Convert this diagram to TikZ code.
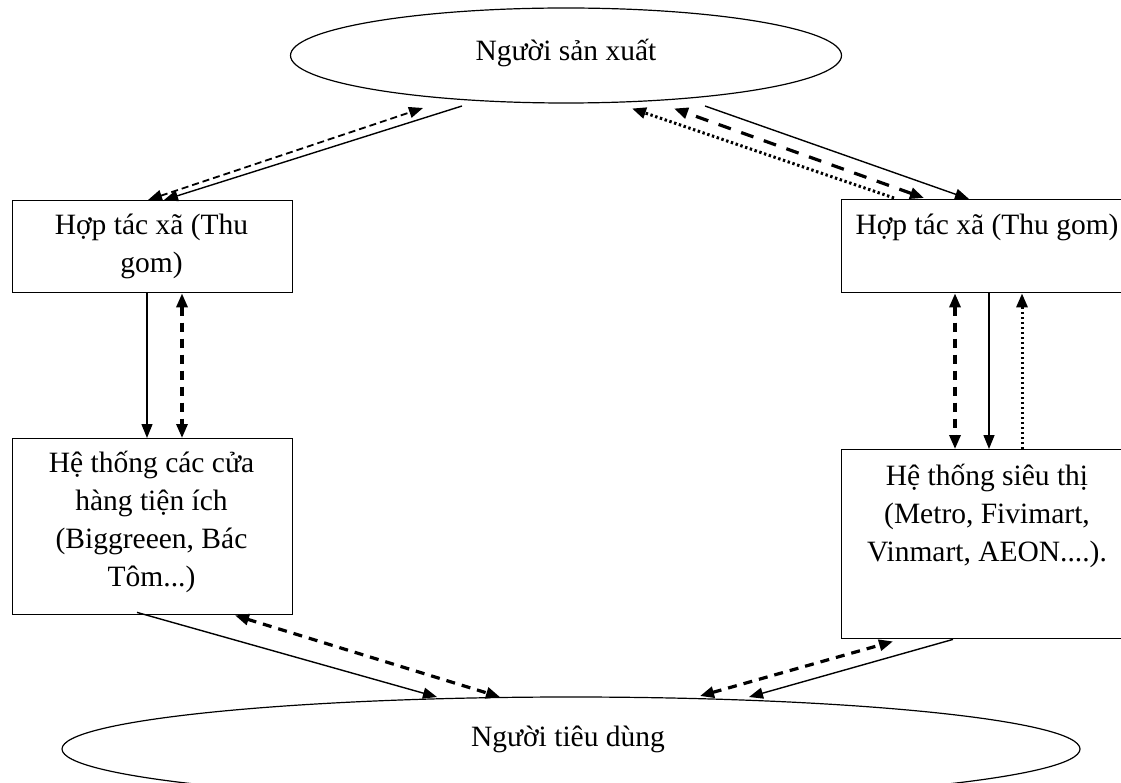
\documentclass[tikz,border=0pt]{standalone}
\usepackage{fontspec}
\setmainfont{Liberation Serif}
\usetikzlibrary{arrows.meta,shapes.geometric}
\begin{document}
\begin{tikzpicture}[x=1pt,y=-1pt,
  >={Triangle[length=14pt,width=11pt]},
  boxshape/.style={draw, line width=1.4pt, inner sep=0pt, anchor=north west},
  ovalshape/.style={draw, ellipse, line width=1.2pt, inner sep=0pt},
  lbl/.style={font=\fontsize{29.5}{38}\selectfont, align=center, inner sep=0pt},
  solidline/.style={line width=1.4pt},
  thindash/.style={line width=1.8pt, dash pattern=on 7pt off 4pt},
  thickdash/.style={line width=3.2pt, dash pattern=on 9pt off 7pt},
  longdash/.style={line width=3.2pt, dash pattern=on 13pt off 11pt},
  dotline/.style={line width=3pt, dash pattern=on 2.4pt off 2.6pt}]
\useasboundingbox (0,0) rectangle (1121,783);
\clip (0,0) rectangle (1121,783);

% shapes
\node[ovalshape, minimum width=551pt, minimum height=95pt] (prod) at (566,55.5) {};
\node[ovalshape, minimum width=1018pt, minimum height=104pt] (cons) at (571,749) {};
\node[boxshape, minimum width=280pt, minimum height=92pt] (htxL) at (12,200) {};
\node[boxshape, minimum width=292pt, minimum height=93pt] (htxR) at (841,199) {};
\node[boxshape, minimum width=280pt, minimum height=176pt] (shopL) at (12,438) {};
\node[boxshape, minimum width=292pt, minimum height=189pt] (superR) at (841,449) {};

% texts
\node[lbl] (tprod) at (566,53) {Người sản xuất};
\node[lbl] (tcons) at (568,739) {Người tiêu dùng};
\node[lbl] (thtxL) at (151.5,246) {Hợp tác xã (Thu\\gom)};
\node[lbl] (thtxR) at (987,227) {Hợp tác xã (Thu gom)};
\node[lbl] (tshopL) at (151.5,522) {Hệ thống các cửa\\hàng tiện ích\\(Biggreeen, Bác\\Tôm...)};
\node[lbl] (tsuperR) at (987,516) {Hệ thống siêu thị\\(Metro, Fivimart,\\Vinmart, AEON....).};

% top-left connectors
\draw[thindash, <->] ([xshift=136pt]htxL.north west) -- ([shift={(-143pt,-52.5pt)}]prod.center);
\draw[solidline, ->] ([shift={(-104pt,-50.5pt)}]prod.center) -- ([xshift=152pt]htxL.north west);

% top-right connectors
\draw[dotline, ->] ([xshift=53pt,yshift=1pt]htxR.north west) -- ([shift={(66pt,-53pt)}]prod.center);
\draw[longdash, <->] ([xshift=83pt,yshift=1pt]htxR.north west) -- ([shift={(108pt,-53pt)}]prod.center);
\draw[solidline, ->] ([shift={(139pt,-50.5pt)}]prod.center) -- ([xshift=128pt]htxR.north west);

% left vertical connectors
\draw[solidline, ->] ([xshift=135pt]htxL.south west) -- ([xshift=135pt]shopL.north west);
\draw[thickdash, <->] ([xshift=170pt]htxL.south west) -- ([xshift=170pt]shopL.north west);

% right vertical connectors
\draw[thickdash, <->] ([xshift=114pt]htxR.south west) -- ([xshift=114pt]superR.north west);
\draw[solidline, ->] ([xshift=148pt]htxR.south west) -- ([xshift=148pt]superR.north west);
\draw[dotline, ->] ([xshift=181pt]superR.north west) -- ([xshift=181pt]htxR.south west);

% bottom-left connectors
\draw[solidline, ->] ([xshift=125pt,yshift=3pt]shopL.south west) -- ([shift={(-134pt,52pt)}]cons.center);
\draw[thickdash, <->] ([xshift=223pt]shopL.south west) -- ([shift={(-71pt,52pt)}]cons.center);

% bottom-right connectors
\draw[thickdash, <->] ([shift={(129pt,53pt)}]cons.center) -- ([xshift=52pt,yshift=-2pt]superR.south west);
\draw[solidline, ->] ([xshift=112pt]superR.south west) -- ([shift={(178pt,52pt)}]cons.center);
\end{tikzpicture}
\end{document}
